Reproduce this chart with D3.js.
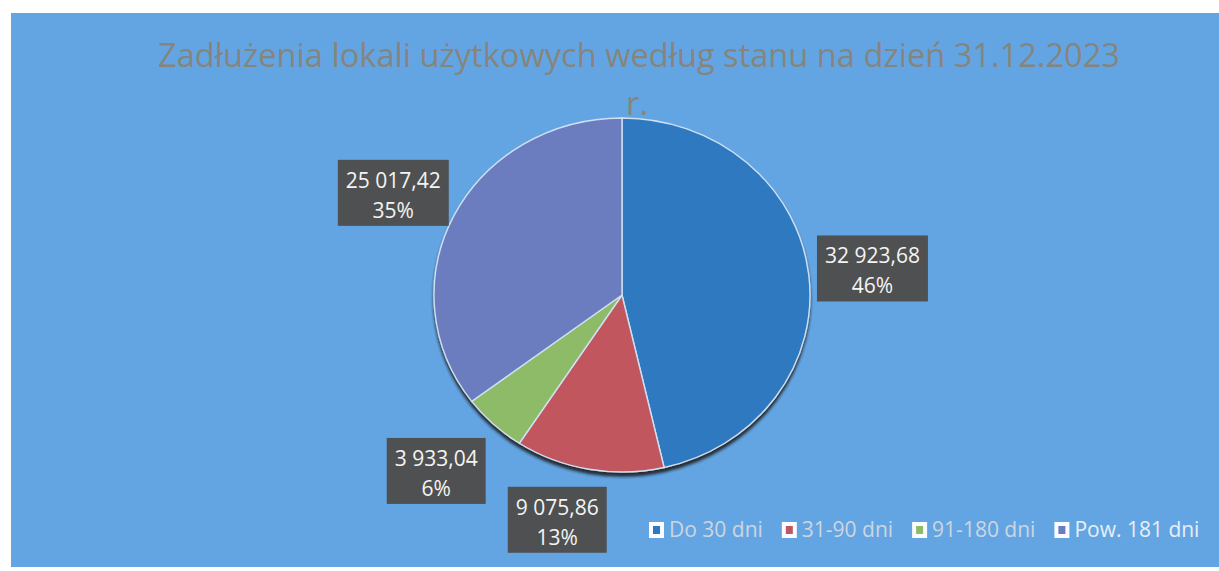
<!DOCTYPE html>
<html>
<head>
<meta charset="utf-8">
<script src="https://cdn.jsdelivr.net/npm/d3@7"></script>
<style>
  html, body { margin: 0; padding: 0; background: #fff; }
  svg { display: block; }
</style>
</head>
<body>
<div id="chart"></div>
<script>
// data
var categories = ['Do 30 dni', '31-90 dni', '91-180 dni', 'Pow. 181 dni'];
var values = [32923.68, 9075.86, 3933.04, 25017.42];
var colors = ['#2d79bf', '#c2575f', '#8dbb68', '#6c7dbf'];
var titleLines = ['Zadłużenia lokali użytkowych według stanu na dzień 31.12.2023', 'r.'];

// layout
var width = 1219, height = 571,
	cx = 622, cy = 295,
	ry = 177, rx = 188,
	labelK = 1.33,
	labelNudge = [[2, 0], [-21, -7], [-15, 4], [-5, 3]];

var pl = d3.formatLocale({ decimal: ',', thousands: '\u00a0', grouping: [3], currency: ['', ''] }),
	fmtVal = pl.format(',.2f'),
	fmtPct = d3.format('.0%'),
	total = d3.sum(values);

var svg = d3.select('#chart').append('svg')
		.attr('width', width)
		.attr('height', height);

var defs = svg.append('defs');
defs.append('filter')
		.attr('id', 'shadow')
		.attr('x', '-10%').attr('y', '-10%')
		.attr('width', '120%').attr('height', '125%')
	.append('feDropShadow')
		.attr('dx', 0).attr('dy', 4)
		.attr('stdDeviation', 1.6)
		.attr('flood-color', '#1b1b1b')
		.attr('flood-opacity', 0.9);

// blue plate
svg.append('rect')
		.attr('x', 11).attr('y', 13)
		.attr('width', width - 11).attr('height', 554)
		.attr('fill', '#63a5e3');

// title
var title = svg.append('text')
		.attr('text-anchor', 'middle')
		.style('font-family', '"Open Sans", sans-serif')
		.style('font-size', '33px')
		.attr('fill', '#86857d');

title.selectAll('tspan')
		.data(titleLines)
	.enter().append('tspan')
		.attr('x', function(d, i) { return i === 0 ? 639 : 637; })
		.attr('y', function(d, i) { return 67 + i * 48; })
		.attr('textLength', function(d, i) { return i === 0 ? 962 : null; })
		.attr('lengthAdjust', 'spacingAndGlyphs')
		.text(function(d) { return d; });

// pie
var pie = d3.pie().sort(null).value(function(d) { return d; });
var arcs = pie(values);
var arc = d3.arc().innerRadius(0).outerRadius(ry);
var sx = rx / ry;

var g = svg.append('g')
		.attr('filter', 'url(#shadow)')
		.attr('transform', 'translate(' + cx + ',' + cy + ') scale(' + sx + ',1)');

g.selectAll('path')
		.data(arcs)
	.enter().append('path')
		.attr('d', arc)
		.attr('fill', function(d, i) { return colors[i]; })
		.attr('stroke', '#cfe0f2')
		.attr('stroke-width', 1.4)
		.attr('vector-effect', 'non-scaling-stroke');

// data labels
var lblArc = d3.arc().innerRadius(ry * labelK).outerRadius(ry * labelK);

var labels = svg.selectAll('.lbl')
		.data(arcs)
	.enter().append('g')
		.attr('class', 'lbl')
		.attr('transform', function(d, i) {
			var c = lblArc.centroid(d);
			return 'translate(' + (cx + c[0] * sx + labelNudge[i][0]) + ',' + (cy + c[1] + labelNudge[i][1]) + ')';
		});

var boxes = labels.append('rect')
		.attr('fill', '#4f5051');

var txt = labels.append('text')
		.attr('text-anchor', 'middle')
		.style('font-family', '"Open Sans", sans-serif')
		.style('font-size', '21px')
		.attr('fill', '#f4f4f4');

txt.append('tspan')
		.attr('x', 0).attr('y', -5)
		.text(function(d) { return fmtVal(d.value); });
txt.append('tspan')
		.attr('x', 0).attr('y', 25)
		.text(function(d) { return fmtPct(d.value / total); });

txt.each(function(d, i) {
	var w = this.getBBox().width;
	d3.select(boxes.nodes()[i])
		.attr('x', -w / 2 - 8)
		.attr('y', -33)
		.attr('width', w + 16)
		.attr('height', 66);
});

// legend
var legend = svg.append('g').attr('transform', 'translate(649,530)');
var lx = 0;
categories.forEach(function(c, i) {
	var item = legend.append('g').attr('transform', 'translate(' + lx + ',0)');
	item.append('rect')
			.attr('x', 0).attr('y', -8)
			.attr('width', 15).attr('height', 16)
			.attr('fill', '#fafcff');
	item.append('rect')
			.attr('x', 4).attr('y', -4)
			.attr('width', 7).attr('height', 8)
			.attr('fill', colors[i]);
	var t = item.append('text')
			.attr('x', 20).attr('y', 7)
			.style('font-family', '"Open Sans", sans-serif')
			.style('font-size', '21px')
			.attr('fill', i === 3 ? '#e9eef4' : '#cdd5df')
			.text(c);
	lx += 20 + t.node().getComputedTextLength() + 19;
});
</script>
</body>
</html>
